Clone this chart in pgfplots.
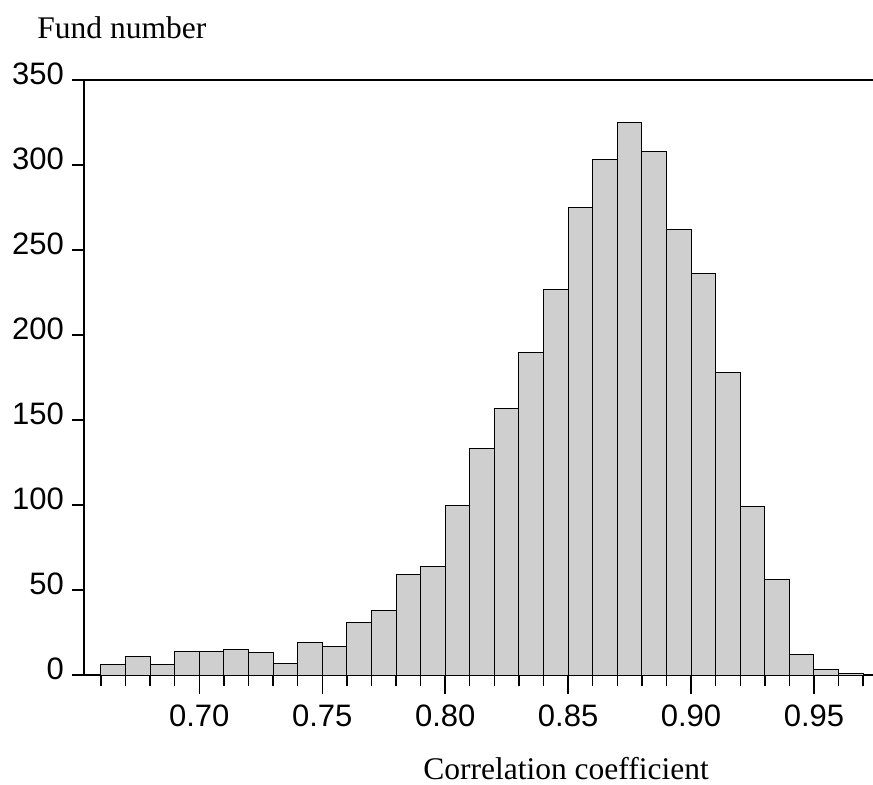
\documentclass[border=0pt]{standalone}
\usepackage{fontspec}
\setmainfont{Liberation Serif}
\newfontfamily\arial{Liberation Sans}
\usepackage{pgfplots}
\pgfplotsset{compat=1.18}
\definecolor{barfill}{HTML}{CFCFCF}

\begin{document}
\begin{tikzpicture}
\path[use as bounding box] (0,0) rectangle (436.5pt,-392.5pt);
\begin{axis}[
    at={(42pt,-337.5pt)}, anchor=origin,
    scale only axis,
    width=394.5pt, height=297.5pt,
    xmin=0.6531, xmax=0.9740,
    ymin=0, ymax=350,
    axis x line*=bottom,
    axis y line*=left,
    axis line style={line width=1.1pt},
    tick align=outside,
    tick style={black, line width=0.7pt},
    major tick length=9.5pt,
    minor tick length=5.5pt,
    xtick={0.70,0.75,0.80,0.85,0.90,0.95},
    minor xtick={0.66,0.67,0.68,0.69,0.71,0.72,0.73,0.74,0.76,0.77,0.78,0.79,0.81,0.82,0.83,0.84,0.86,0.87,0.88,0.89,0.91,0.92,0.93,0.94,0.96,0.97},
    ytick={0,50,100,150,200,250,300,350},
    ytick style={/pgfplots/major tick length=6pt},
    tick label style={font=\arial\fontsize{15.5}{18}\selectfont},
    /pgf/number format/assume math mode=true,
    xticklabel style={yshift=-2pt, /pgf/number format/.cd, fixed, fixed zerofill, precision=2},
    yticklabel style={yshift=3pt, xshift=3pt},
    clip=false,
]
\addplot[ybar interval, draw=black, line width=0.5pt, fill=barfill]
    coordinates {
    (0.66,6)(0.67,11)(0.68,6)(0.69,14)(0.70,14)(0.71,15)(0.72,13)(0.73,7)
    (0.74,19)(0.75,17)(0.76,31)(0.77,38)(0.78,59)(0.79,64)(0.80,100)
    (0.81,133)(0.82,157)(0.83,190)(0.84,227)(0.85,275)(0.86,303)(0.87,325)
    (0.88,308)(0.89,262)(0.90,236)(0.91,178)(0.92,99)(0.93,56)(0.94,12)
    (0.95,3)(0.96,1)(0.97,0)
    };
\draw[line width=1.1pt] (rel axis cs:0,1) -- (rel axis cs:1,1);
\end{axis}
\node[anchor=base west, font=\fontsize{15.75}{18}\selectfont, inner sep=0pt] at (18.5pt,-19.2pt) {Fund number};
\node[anchor=base, font=\fontsize{15.75}{18}\selectfont, inner sep=0pt] at (283pt,-389.5pt) {Correlation coefficient};
\end{tikzpicture}
\end{document}
